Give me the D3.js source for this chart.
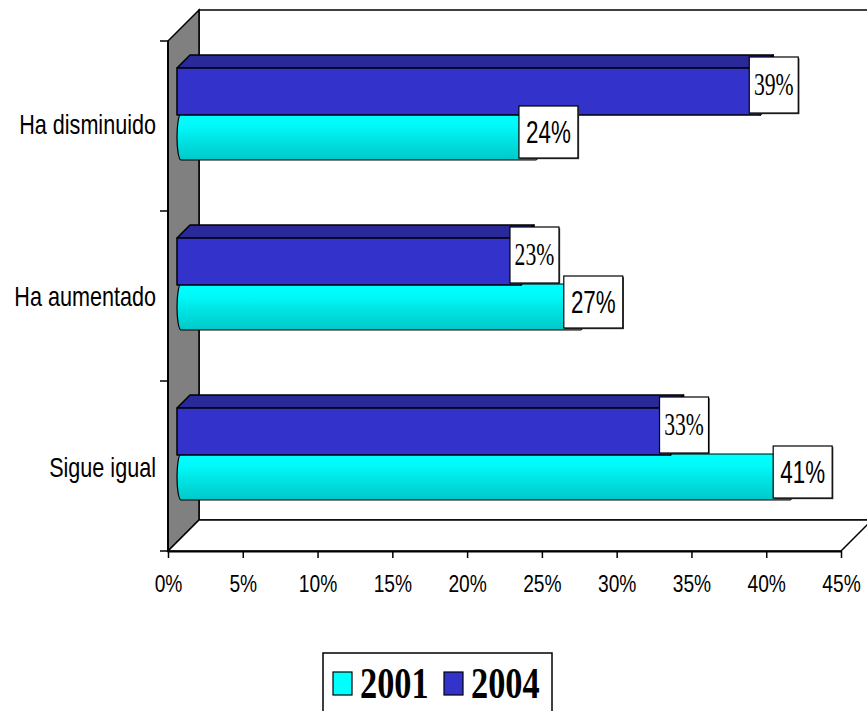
<!DOCTYPE html>
<html>
<head>
<meta charset="utf-8">
<script src="https://cdn.jsdelivr.net/npm/d3@7/dist/d3.min.js"></script>
<style>
  html, body { margin: 0; padding: 0; background: #ffffff; }
  svg { display: block; }
</style>
</head>
<body>
<div id="chart"></div>
<script>
// ---- data ----
const categories = ["Ha disminuido", "Ha aumentado", "Sigue igual"];
const series = ["2004", "2001"];          // top bar, bottom bar in each group
const values2001 = [24, 27, 41];
const values2004 = [39, 23, 33];
const xTicks = [0, 5, 10, 15, 20, 25, 30, 35, 40, 45];
const legendLabels = ["2001", "2004"];

// ---- layout ----
const W = 867, H = 711;
const svg = d3.select("#chart").append("svg").attr("width", W).attr("height", H);

const frontLeft = 168, frontRight = 841, frontTop = 41, frontBottom = 551;
const D = 31;          // wall depth offset
const BD0 = 9;         // bar front depth offset
const BD = 13;         // bar depth

const x = d3.scaleLinear().domain([0, 45]).range([frontLeft, frontRight]);
const y = d3.scaleBand().domain(categories).range([frontTop, frontBottom]).padding(0);
const inner = d3.scaleBand().domain(series).range([36, 128]);

const colors = { "2001": "#00ffff", "2004": "#3333cc" };

const defs = svg.append("defs");
const grad = defs.append("linearGradient").attr("id", "cyl").attr("x1", 0).attr("y1", 0).attr("x2", 0).attr("y2", 1);
[[0, "#00ffff"], [0.25, "#00fafa"], [0.5, "#00e8e8"], [0.75, "#00d8d8"], [0.95, "#00cccc"], [1, "#00c4c4"]]
  .forEach(([o, c]) => grad.append("stop").attr("offset", o).attr("stop-color", c));

// back wall
svg.append("rect")
  .attr("x", frontLeft + D).attr("y", frontTop - D)
  .attr("width", frontRight - frontLeft).attr("height", frontBottom - frontTop)
  .attr("fill", "#fff").attr("stroke", "#000").attr("stroke-width", 1.5);

// left wall
svg.append("polygon")
  .attr("points", [[frontLeft, frontTop], [frontLeft + D, frontTop - D], [frontLeft + D, frontBottom - D], [frontLeft, frontBottom]].map(p => p.join(",")).join(" "))
  .attr("fill", "#808080").attr("stroke", "#000").attr("stroke-width", 1.5);

// floor
svg.append("polygon")
  .attr("points", [[frontLeft, frontBottom], [frontLeft + D, frontBottom - D], [frontRight + D, frontBottom - D], [frontRight, frontBottom]].map(p => p.join(",")).join(" "))
  .attr("fill", "#fff").attr("stroke", "#000").attr("stroke-width", 1.5);

// bars
const rows = categories.map((c, i) => ({ cat: c, v2001: values2001[i], v2004: values2004[i] }));
const gBars = svg.append("g");
const labels = [];

rows.forEach(r => {
  const b0 = y(r.cat);
  // 2001 cylinder
  {
    const yt = b0 + inner("2001") - BD0;
    const h = inner.bandwidth();
    const yb = yt + h;
    const x0 = x(0) + BD0, x1 = x(r.v2001) + BD0;
    const rx = 4;
    const path = `M${x0 + rx},${yt} L${x1},${yt} A${rx},${h / 2} 0 0 1 ${x1},${yb} L${x0 + rx},${yb} A${rx},${h / 2} 0 0 1 ${x0 + rx},${yt} Z`;
    gBars.append("path").attr("d", path).attr("fill", "url(#cyl)").attr("stroke", "#000").attr("stroke-width", 1.2);
    labels.push({ kind: "2001", text: r.v2001 + "%", x: x1 - 17, y: yt - 8, w: 59, h: h - 2 + 8 });
  }
  // 2004 box
  {
    const yt = b0 + inner("2004") - BD0;
    const h = inner.bandwidth() + 1;
    const x0 = x(0) + BD0, x1 = x(r.v2004) + BD0;
    const g = gBars.append("g").attr("stroke", "#000").attr("stroke-width", 1.5).attr("stroke-linejoin", "round");
    g.append("polygon")
      .attr("points", [[x0, yt], [x0 + BD, yt - BD], [x1 + BD, yt - BD], [x1, yt]].map(p => p.join(",")).join(" "))
      .attr("fill", "#29299a");
    g.append("polygon")
      .attr("points", [[x1, yt], [x1 + BD, yt - BD], [x1 + BD, yt - BD + h], [x1, yt + h]].map(p => p.join(",")).join(" "))
      .attr("fill", "#1f1f7a");
    g.append("rect").attr("x", x0).attr("y", yt).attr("width", x1 - x0).attr("height", h).attr("fill", colors["2004"]);
    labels.push({ kind: "2004", text: r.v2004 + "%", x: x1 - 11, y: yt - 11, w: 49, h: 56 });
  }
});

// value labels
const gLab = svg.append("g");
labels.forEach(l => {
  gLab.append("rect").attr("x", l.x + 1.2).attr("y", l.y + 1.2).attr("width", l.w).attr("height", l.h).attr("fill", "#444");
  gLab.append("rect").attr("x", l.x).attr("y", l.y).attr("width", l.w).attr("height", l.h)
    .attr("fill", "#fff").attr("stroke", "#000").attr("stroke-width", 1.2);
  const serif = l.kind === "2004";
  gLab.append("text")
    .attr("transform", `translate(${l.x + l.w / 2},${l.y + l.h / 2 + (serif ? 10 : 11)}) scale(0.7,1)`)
    .attr("text-anchor", "middle")
    .attr("font-family", serif ? "'Liberation Serif','Times New Roman',serif" : "'Liberation Sans',Arial,sans-serif")
    .attr("font-size", serif ? 31 : 32)
    .attr("fill", "#000")
    .text(l.text);
});

// x axis
const xAxis = d3.axisBottom(x).tickValues(xTicks).tickFormat(d => d + "%").tickSizeInner(7).tickSizeOuter(0);
const gx = svg.append("g").attr("transform", `translate(0,${frontBottom})`).call(xAxis);
gx.select(".domain").attr("stroke", "#000").attr("stroke-width", 2);
gx.selectAll(".tick line").attr("stroke", "#000").attr("stroke-width", 1.5);
gx.selectAll(".tick text")
  .attr("y", 0).attr("dy", null)
  .attr("transform", "translate(0,41) scale(0.8,1)")
  .attr("font-family", "'Liberation Sans',Arial,sans-serif")
  .attr("font-size", 24).attr("fill", "#000");

// y axis
const yAxis = d3.axisLeft(y).tickSize(0).tickPadding(0);
const gy = svg.append("g").attr("transform", `translate(${frontLeft},0)`).call(yAxis);
gy.select(".domain").remove();
gy.selectAll(".tick text")
  .attr("x", 0).attr("dy", null)
  .attr("transform", (d, i) => `translate(-12,${[8, 10, 11][i]}) scale(0.8,1)`)
  .attr("text-anchor", "end")
  .attr("font-family", "'Liberation Sans',Arial,sans-serif")
  .attr("font-size", 27).attr("fill", "#000");

svg.append("line").attr("x1", frontLeft).attr("x2", frontLeft).attr("y1", frontTop).attr("y2", frontBottom)
  .attr("stroke", "#000").attr("stroke-width", 2);
const bounds = categories.map(c => y(c)).concat([frontBottom]);
svg.append("g").selectAll("line").data(bounds).join("line")
  .attr("x1", frontLeft - 8).attr("x2", frontLeft).attr("y1", d => d).attr("y2", d => d)
  .attr("stroke", "#000").attr("stroke-width", 1.5);

// legend
const lg = svg.append("g");
lg.append("rect").attr("x", 323).attr("y", 653).attr("width", 229).attr("height", 70)
  .attr("fill", "#fff").attr("stroke", "#000").attr("stroke-width", 1.5);
const legendX = [333, 444];
legendLabels.forEach((s, i) => {
  lg.append("rect").attr("x", legendX[i]).attr("y", 672).attr("width", 19).attr("height", 23)
    .attr("fill", colors[s]).attr("stroke", "#000").attr("stroke-width", 1.2);
  lg.append("text")
    .attr("transform", `translate(${legendX[i] + 27},698) scale(0.78,1)`)
    .attr("font-family", "'Liberation Serif','Times New Roman',serif")
    .attr("font-weight", "bold").attr("font-size", 44).attr("fill", "#000")
    .text(s);
});
</script>
</body>
</html>
